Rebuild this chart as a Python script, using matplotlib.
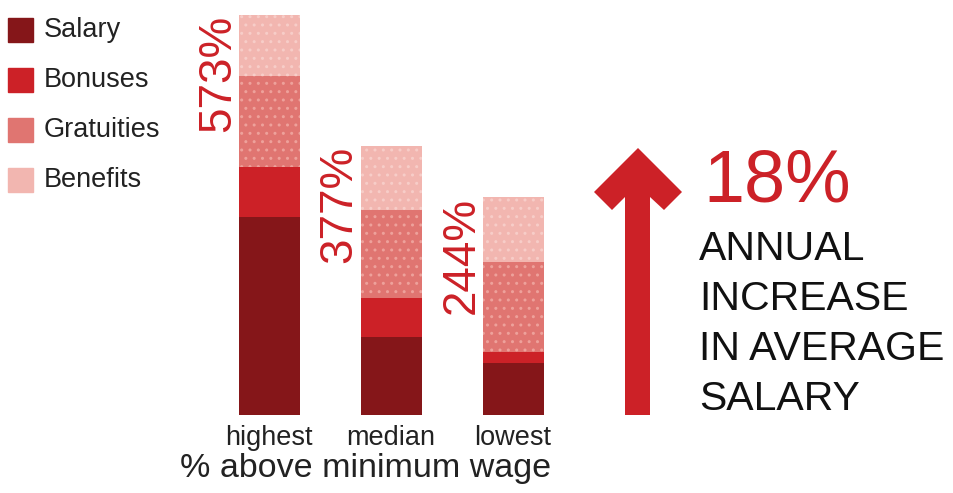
import matplotlib
matplotlib.use("Agg")
import matplotlib.pyplot as plt
from matplotlib.patches import Polygon

plt.rcParams['font.family'] = ['Liberation Sans', 'DejaVu Sans']
plt.rcParams['hatch.linewidth'] = 1.0

groups = ["highest", "median", "lowest"]
pct_labels = ["573%", "377%", "244%"]
components = ["Salary", "Bonuses", "Gratuities", "Benefits"]
salary = [198, 78, 52]
bonuses = [50, 39, 11]
gratuities = [91, 88, 90]
benefits = [61, 64, 65]

colors = ["#851619", "#cc2127", "#e07571", "#f2b6b0"]
hatch_colors = ["#851619", "#cc2127", "#eea19b", "#f7cdc8"]
hatches = [None, None, "..", ".."]

fig = plt.figure(figsize=(9.54, 4.93), dpi=100)
W, H = 954, 493

# bar axes: category 0 centred at px 269, spacing 122 px; y=0 at px 415
ax = fig.add_axes([208 / W, (H - 415) / H, 366 / W, 400 / H])
ax.set_xlim(-0.5, 2.5)
ax.set_ylim(0, 400)
ax.axis("off")

x = list(range(len(groups)))
series = [salary, bonuses, gratuities, benefits]
bottom = [0, 0, 0]
for vals, c, hc, h, name in zip(series, colors, hatch_colors, hatches, components):
    ax.bar(x, vals, width=0.5, bottom=bottom, color=c, edgecolor=hc,
           linewidth=0, hatch=h, label=name)
    bottom = [b + v for b, v in zip(bottom, vals)]

for i, (tot, lab) in enumerate(zip(bottom, pct_labels)):
    ax.text(i - 0.24, tot, lab, rotation=90, ha="right", va="top",
            color="#cc2127", fontsize=33)

for i, g in enumerate(groups):
    ax.text(i, -10, g, ha="center", va="top", fontsize=19.5, color="#222222")

fig.text(366 / W, 1 - 469 / H, "% above minimum wage", ha="center",
         va="center", fontsize=24.5, color="#222222")

# legend
for k, (name, c) in enumerate(zip(components, colors)):
    yc = 30 + 50 * k
    fig.patches.append(plt.Rectangle((8 / W, 1 - (yc + 12) / H), 25 / W, 24 / H,
                                     transform=fig.transFigure, color=c))
    fig.text(44 / W, 1 - yc / H, name, ha="left", va="center",
             fontsize=19.5, color="#222222")

# chevron-headed arrow
arrow_px = [(625, 415), (625, 197), (612, 210), (594, 192), (638, 148),
            (682, 192), (664, 210), (650, 197), (650, 415)]
arrow = Polygon([(px / W, 1 - py / H) for px, py in arrow_px], closed=True,
                transform=fig.transFigure, facecolor="#cc2127", linewidth=0)
fig.patches.append(arrow)

fig.text(703 / W, 1 - 182 / H, "18%", ha="left", va="center",
         fontsize=53, color="#cc2127")
for j, line in enumerate(["ANNUAL", "INCREASE", "IN AVERAGE", "SALARY"]):
    fig.text(699 / W, 1 - (249 + 50 * j) / H, line, ha="left", va="center",
             fontsize=29.5, color="#111111")

fig.savefig("out.png", dpi=100)
